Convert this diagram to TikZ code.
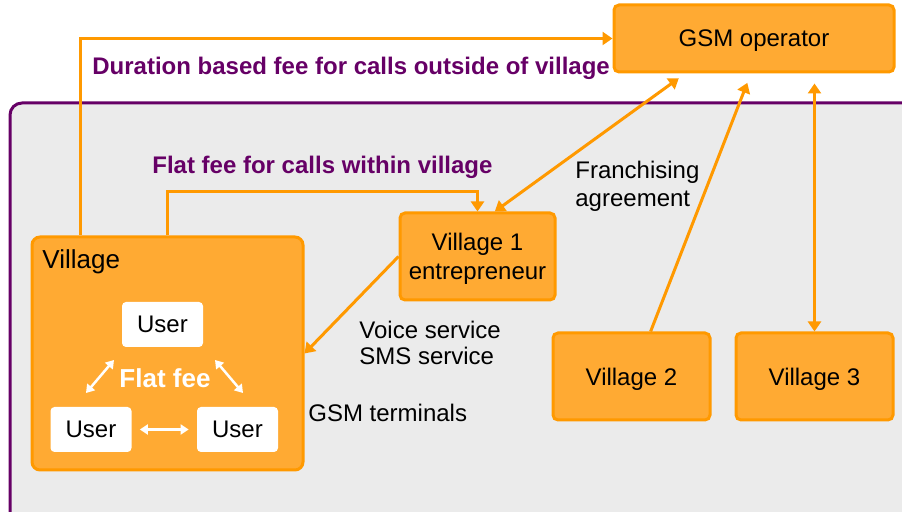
\documentclass[tikz,border=0pt]{standalone}
\usepackage{fontspec}
\setmainfont{Liberation Sans}
\usetikzlibrary{arrows.meta,calc}
\definecolor{gsmorange}{RGB}{255,170,51}
\definecolor{gsmborder}{RGB}{255,153,0}
\definecolor{gsmpurple}{RGB}{102,0,102}
\definecolor{gsmgray}{RGB}{235,235,235}
\begin{document}
\begin{tikzpicture}[x=0.5pt,y=-0.5pt]
		\tikzstyle{box} = [draw=gsmborder, line width=1.5pt, fill=gsmorange, rounded corners=2.5pt, text centered, align=center, inner sep=0pt, text depth=0pt, font=\fontsize{12}{14.5}\selectfont]
		\tikzstyle{userbox} = [fill=white, rounded corners=2pt, minimum width=40.5pt, minimum height=22.5pt, inner sep=0pt, text depth=0pt, font=\fontsize{12}{14}\selectfont]
		\tikzstyle{conn} = [draw=gsmborder, line width=1.5pt, -{Triangle[length=5pt,width=6.5pt]}]
		\tikzstyle{biconn} = [conn, {Triangle[length=5pt,width=6.5pt]}-{Triangle[length=5pt,width=6.5pt]}]
		\tikzstyle{whitearrow} = [draw=white, line width=1.25pt, {Triangle[length=4pt,width=5pt]}-{Triangle[length=4pt,width=5pt]}]
		\tikzstyle{plain} = [inner sep=0pt, anchor=west, align=left, font=\fontsize{12}{14}\selectfont]
		\tikzstyle{fee} = [plain, text=gsmpurple, font=\fontsize{12}{14}\selectfont\bfseries]
		\useasboundingbox (0,0) rectangle (902,512);
		\fill [gsmgray, draw=gsmpurple, line width=1.5pt, rounded corners=6pt] (10,103) rectangle (930,540);
		\node [box, minimum width=140pt, minimum height=33.5pt] (gsm) at (754,38.5) {GSM operator};
		\node [box, minimum width=77.5pt, minimum height=43.5pt] (vil1) at (477.5,256.5) {Village 1\\entrepreneur};
		\node [box, minimum width=78.5pt, minimum height=43.5pt] (vil2) at (631.5,376.5) {Village 2};
		\node [box, minimum width=78.5pt, minimum height=43.5pt] (vil3) at (814.5,376.5) {Village 3};
		\node [box, rounded corners=4pt, minimum width=135.5pt, minimum height=116.5pt] (village) at (167.5,353.5) {};
		\node [plain, font=\fontsize{13}{15}\selectfont] (vlab) at (42,262) {Village};
		\node [userbox] (u1) at (162.5,324.5) {User};
		\node [userbox] (u2) at (91,429.5) {User};
		\node [userbox] (u3) at (237.5,429.5) {User};
		\node [inner sep=0pt, text=white, font=\fontsize{13}{15}\selectfont\bfseries] (flat) at (165,378) {Flat fee};
		\coordinate (w1) at (114,360);
		\coordinate (w2) at (86,393);
		\coordinate (w3) at (215,360);
		\coordinate (w4) at (243,393);
		\draw [whitearrow] (w1) -- (w2);
		\draw [whitearrow] (w3) -- (w4);
		\draw [whitearrow, shorten >=4pt, shorten <=4pt] (u2.east) -- (u3.west);
		% fees
		\coordinate (c1) at (80,38.5);
		\coordinate (c2) at (167,192);
		\draw [conn] (village.north -| c1) |- (gsm.west);
		\draw [conn] (village.north -| c2) -- (c2) -| (vil1.north);
		% links to the operator
		\draw [biconn, shorten >=4pt] (vil1.69) -- (gsm.207);
		\draw [conn, shorten >=5pt] (vil2.67) -- (gsm.265);
		\draw [biconn, shorten >=5pt] (vil3.north) -- (vil3.north |- gsm.south);
		\draw [conn] (vil1.west) -- (village.east);
		\node [fee] (t1) at (92,68) {Duration based fee for calls outside of village};
		\node [fee] (t2) at (152,167) {Flat fee for calls within village};
		\node [plain] (t3) at (575,186) {Franchising\\agreement};
		\node [plain, font=\fontsize{12}{13}\selectfont] (t4) at (359,343) {Voice service\\SMS service};
		\node [plain] (t5) at (308,413) {GSM terminals};
\end{tikzpicture}
\end{document}
